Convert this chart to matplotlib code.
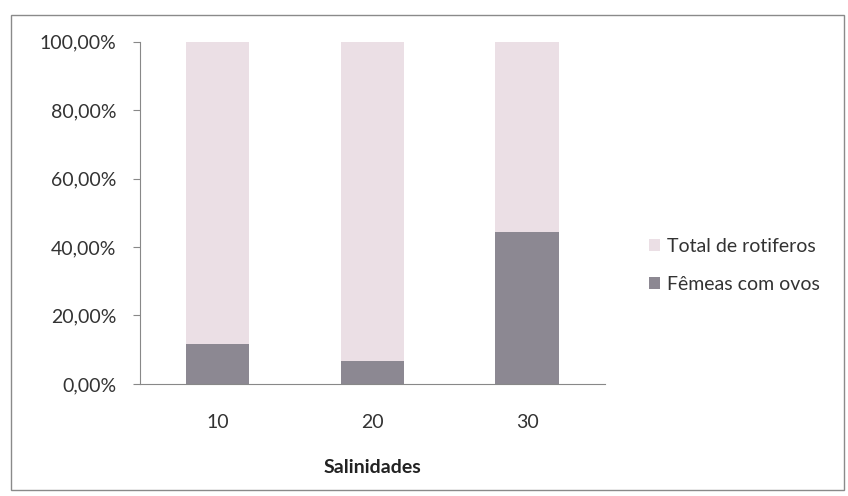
import matplotlib.pyplot as plt
from matplotlib.patches import Rectangle
from matplotlib.ticker import FuncFormatter

plt.rcParams['font.family'] = ['Lato', 'DejaVu Sans']

salinidades = ['10', '20', '30']
femeas = [11.7, 6.8, 44.5]
total = [100, 100, 100]
resto = [t - f for t, f in zip(total, femeas)]

cor_total = '#ebdfe5'
cor_femeas = '#8c8892'

fig = plt.figure(figsize=(8.48, 4.96), dpi=100)
fig.patches.append(Rectangle((0.013, 0.012), 0.982, 0.958, transform=fig.transFigure,
                             fill=False, edgecolor='#8a8a8a', linewidth=1.0))

ax = fig.add_axes([0.165, 0.226, 0.548, 0.69])
x = range(len(salinidades))
ax.bar(x, femeas, width=0.41, color=cor_femeas, label='Fêmeas com ovos')
ax.bar(x, resto, width=0.41, bottom=femeas, color=cor_total, label='Total de rotiferos')

ax.set_xlim(-0.5, 2.5)
ax.set_ylim(0, 100)
ax.set_yticks([0, 20, 40, 60, 80, 100])
ax.yaxis.set_major_formatter(FuncFormatter(lambda v, p: f'{v:.2f}%'.replace('.', ',')))
ax.set_xticks(list(x))
ax.set_xticklabels(salinidades)
ax.tick_params(axis='y', labelsize=14, length=5, color='#888888', pad=12, labelcolor='#333333')
ax.tick_params(axis='x', labelsize=14, length=0, pad=22, labelcolor='#333333')
for s in ['top', 'right']:
    ax.spines[s].set_visible(False)
for s in ['left', 'bottom']:
    ax.spines[s].set_color('#888888')
ax.set_xlabel('Salinidades', fontsize=14, fontweight='bold', labelpad=20, color='#222222')

h, l = ax.get_legend_handles_labels()
fig.legend(h[::-1], l[::-1], loc='center left', bbox_to_anchor=(0.745, 0.465), frameon=False,
           fontsize=14, handlelength=0.55, handleheight=0.55, handletextpad=0.35, labelspacing=1.1,
           labelcolor='#333333')

fig.savefig('out.png', dpi=100)
